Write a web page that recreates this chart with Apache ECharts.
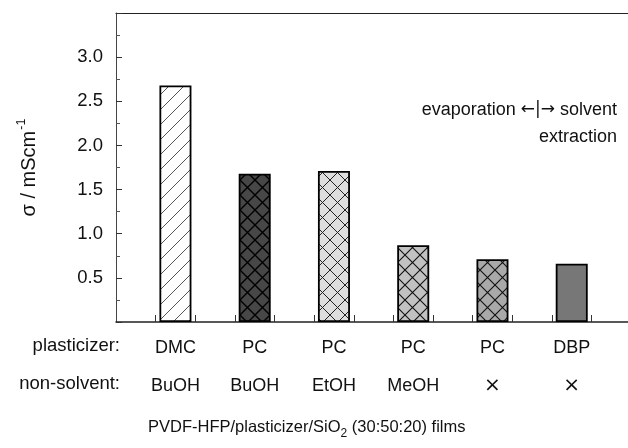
<!DOCTYPE html>
<html>
<head>
<meta charset="utf-8">
<script src="https://cdn.jsdelivr.net/npm/echarts@6/dist/echarts.min.js"></script>
<style>
html,body{margin:0;padding:0;background:#fff;}
#c{width:628px;height:448px;}
</style>
</head>
<body>
<div id="c"></div>
<script>
// ---- data ----
const plasticizers = ['DMC', 'PC', 'PC', 'PC', 'PC', 'DBP'];
const nonSolvents = ['BuOH', 'BuOH', 'EtOH', 'MeOH', '\u00d7', '\u00d7'];
const positions = [1, 2, 3, 4, 5, 6];
const conductivity = [2.68, 1.68, 1.71, 0.87, 0.71, 0.66];
const yTickLabels = ['0.5', '1.0', '1.5', '2.0', '2.5', '3.0'];
const xTickPositions = [0.75, 1.25, 1.75, 2.25, 2.75, 3.25, 3.75, 4.25, 4.75, 5.25, 5.75, 6.25];

const FONT = "'Liberation Sans', Arial, Helvetica, sans-serif";

function hatch(bg, lineColor, lw, size, fwd, back) {
  const c = document.createElement('canvas');
  c.width = size; c.height = size;
  const g = c.getContext('2d');
  g.fillStyle = bg; g.fillRect(0, 0, size, size);
  g.strokeStyle = lineColor; g.lineWidth = lw;
  g.beginPath();
  if (fwd) {
    for (const k of [-size, 0, size]) { g.moveTo(k - 2, size + 2); g.lineTo(k + size + 2, -2); }
  }
  if (back) {
    for (const k of [-size, 0, size]) { g.moveTo(k - 2, -2); g.lineTo(k + size + 2, size + 2); }
  }
  g.stroke();
  return c;
}

const fills = [
  { image: hatch('#ffffff', '#555555', 1, 15, true, false), repeat: 'repeat' },
  { image: hatch('#474747', '#000000', 1.4, 15, true, true), repeat: 'repeat' },
  { image: hatch('#dedede', '#222222', 1, 15, true, true), repeat: 'repeat' },
  { image: hatch('#c2c2c2', '#111111', 1.1, 15, true, true), repeat: 'repeat' },
  { image: hatch('#a9a9a9', '#111111', 1.1, 15, true, true), repeat: 'repeat' },
  '#777777'
];

const chart = echarts.init(document.getElementById('c'), null, { renderer: 'canvas' });

const barData = positions.map((p, i) => ({
  value: [p, conductivity[i]],
  itemStyle: { color: fills[i] }
}));

chart.setOption({
  animation: false,
  backgroundColor: '#ffffff',
  grid: { left: 116, right: 0, top: 13, bottom: 126, containLabel: false },
  xAxis: [
    {
      type: 'value', min: 0.25, max: 6.71, position: 'bottom',
      splitLine: { show: false },
      axisLine: { show: true, onZero: false, lineStyle: { color: '#222', width: 1.5 } },
      axisTick: { show: true, inside: true, length: 7, customValues: xTickPositions, lineStyle: { color: '#333', width: 1 } },
      axisLabel: {
        show: true, margin: 7,
        customValues: positions,
        formatter: function (v) {
          const i = positions.indexOf(Math.round(v));
          if (i < 0) return '';
          const ns = nonSolvents[i];
          const nTok = ns === '\u00d7' ? '{x|' + ns + '}' : '{n|' + ns + '}';
          return '{p|' + plasticizers[i] + '}\n' + nTok;
        },
        rich: {
          p: { fontFamily: FONT, fontSize: 18, color: '#111', lineHeight: 38 },
          n: { fontFamily: FONT, fontSize: 18, color: '#111', lineHeight: 38 },
          x: { fontFamily: "'DejaVu Sans', sans-serif", fontSize: 20, color: '#111', lineHeight: 38 }
        }
      }
    },
    {
      type: 'value', min: 0.25, max: 6.71, position: 'top',
      splitLine: { show: false },
      axisLine: { show: true, onZero: false, lineStyle: { color: '#222', width: 1.2 } },
      axisTick: { show: false }, axisLabel: { show: false }
    }
  ],
  yAxis: {
    type: 'value', min: 0, max: 3.5, interval: 0.5,
    splitLine: { show: false },
    axisLine: { show: true, lineStyle: { color: '#444', width: 1 } },
    axisTick: { show: true, inside: true, length: 6, lineStyle: { color: '#333' } },
    minorTick: { show: true, splitNumber: 2, length: 4, lineStyle: { color: '#555' } },
    axisLabel: {
      margin: 13, fontFamily: FONT, fontSize: 18.5, color: '#111',
      formatter: function (v) {
        const s = v.toFixed(1);
        return yTickLabels.indexOf(s) >= 0 ? s : '';
      }
    },
    name: '{a|\u03c3 / mScm}{b|-1}',
    nameLocation: 'middle', nameGap: 77, nameRotate: 90,
    nameTextStyle: {
      rich: {
        a: { fontFamily: FONT, fontSize: 20, color: '#111', lineHeight: 24, verticalAlign: 'bottom' },
        b: { fontFamily: FONT, fontSize: 12.5, color: '#111', lineHeight: 24, verticalAlign: 'top', padding: [0, 0, 0, 1] }
      }
    }
  },
  series: [{
    type: 'bar',
    xAxisIndex: 0,
    barWidth: 32,
    data: barData,
    itemStyle: { borderColor: '#000', borderWidth: 1.8 }
  }],
  graphic: [
    { type: 'text', right: 508, top: 336, style: { text: 'plasticizer:', font: '18.5px ' + FONT, fill: '#111' } },
    { type: 'text', right: 508, top: 374, style: { text: 'non-solvent:', font: '18.5px ' + FONT, fill: '#111' } },
    {
      type: 'text', right: 11, top: 101,
      style: {
        text: '{t|evaporation }{r|\u2190}{r||}{r|\u2192}{t| solvent}',
        rich: {
          t: { fontFamily: FONT, fontSize: 18, fill: '#111', lineHeight: 24 },
          r: { fontFamily: "'DejaVu Sans', sans-serif", fontSize: 17, fill: '#111', lineHeight: 24 }
        }
      }
    },
    { type: 'text', right: 11, top: 128, style: { text: 'extraction', font: '18px ' + FONT, fill: '#111' } },
    {
      type: 'text', left: 148, top: 419,
      style: {
        text: '{a|PVDF-HFP/plasticizer/SiO}{s|2}{a| (30:50:20) films}',
        rich: {
          a: { fontFamily: FONT, fontSize: 16.5, fill: '#111', lineHeight: 22, verticalAlign: 'top' },
          s: { fontFamily: FONT, fontSize: 12, fill: '#111', lineHeight: 12, padding: [9, 0, 0, 0], verticalAlign: 'top' }
        }
      }
    }
  ]
});
</script>
</body>
</html>
